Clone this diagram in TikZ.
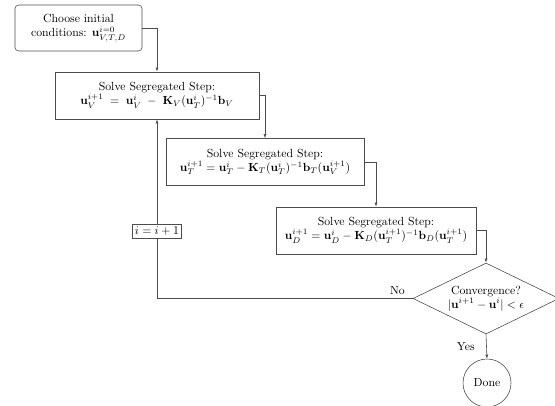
\documentclass[tikz,border=0pt]{standalone}
\usetikzlibrary{shapes.geometric,arrows.meta}
\begin{document}
\begin{tikzpicture}[x=0.85pt,y=-0.85pt,
  box/.style={draw=black!70, line width=0.5pt, align=center, minimum height={47*0.85pt}, inner sep=2pt},
  conn/.style={draw=black!70, line width=0.5pt, -{Latex[length=3.5pt,width=2.6pt]}},
  lbl/.style={inner sep=2pt}
]
\useasboundingbox (0,0) rectangle (555,406);
\node[box, rounded corners=3pt, minimum width={127*0.85pt}, minimum height={46*0.85pt}] (b1) at (78.5,28)
  {Choose initial\\conditions: $\mathbf{u}^{i=0}_{V,T,D}$};
\node[box, minimum width={204*0.85pt}] (b2) at (157,95.5)
  {Solve Segregated Step:\\ $\mathbf{u}_V^{i+1} \;=\; \mathbf{u}_V^i \;-\; \mathbf{K}_V(\mathbf{u}_T^i)^{-1}\mathbf{b}_V$};
\node[box, minimum width={198*0.85pt}] (b3) at (265,162)
  {Solve Segregated Step:\\ $\mathbf{u}_T^{i+1} = \mathbf{u}_T^i - \mathbf{K}_T(\mathbf{u}_T^i)^{-1}\mathbf{b}_T(\mathbf{u}_V^{i+1})$};
\node[box, minimum width={200*0.85pt}] (b4) at (376,230.5)
  {Solve Segregated Step:\\ $\mathbf{u}_D^{i+1} = \mathbf{u}_D^i - \mathbf{K}_D(\mathbf{u}_T^{i+1})^{-1}\mathbf{b}_D(\mathbf{u}_T^{i+1})$};
\node[draw=black!70, line width=0.5pt, diamond, aspect=2, minimum width={146*0.85pt}, minimum height={71*0.85pt}, inner sep=0pt, align=center] (d) at (486,298.5)
  {Convergence?\\ $|\mathbf{u}^{i+1}-\mathbf{u}^i|<\epsilon$};
\node[draw=black!70, line width=0.5pt, circle, minimum size={48*0.85pt}, inner sep=0pt] (c) at (487,383) {Done};
\draw[conn] (b1.east) -| (b2.north);
\draw[conn] (b2.east) -| (b3.north);
\draw[conn] (b3.east) -| (b4.north);
\draw[conn] (b4.east) -| (d.north);
\draw[conn] (d.south) -- node[left=6.5pt]{Yes} (c.north);
\draw[conn] (d.west) -| node[pos=0.03, above]{No}
  node[pos=0.687, draw=black!70, line width=0.5pt, fill=white, lbl]{$i=i+1$} (b2.south);
\end{tikzpicture}
\end{document}
